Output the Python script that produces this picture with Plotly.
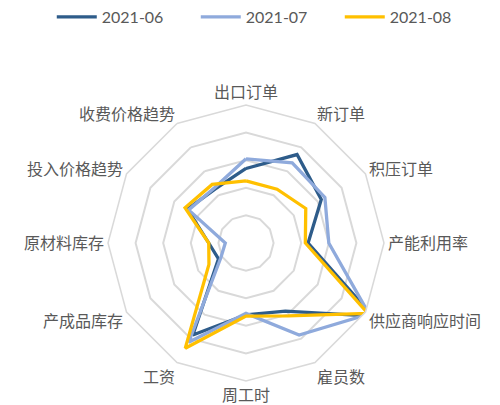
import plotly.graph_objects as go

categories = ["出口订单", "新订单", "积压订单", "产能利用率", "供应商响应时间", "雇员数",
              "周工时", "工资", "产成品库存", "原材料库存", "投入价格趋势", "收费价格趋势"]
s_2021_06 = [54, 74, 63, 45, 106, 57, 52, 77, 23, 27, 49, 45]
s_2021_07 = [61, 67, 66, 60, 103, 77, 51, 83, 21, 15, 48, 46]
s_2021_08 = [45, 45, 50, 43, 102, 61, 53, 88, 31, 27, 51, 49]
series_names = ["2021-06", "2021-07", "2021-08"]
colors = ["#2E5C8A", "#8FAADC", "#FFC000"]

fig = go.Figure()
for name, vals, col in zip(series_names, [s_2021_06, s_2021_07, s_2021_08], colors):
    fig.add_trace(go.Scatterpolar(
        r=vals + vals[:1], theta=categories + categories[:1],
        mode="lines", name=name, cliponaxis=False,
        line=dict(color=col, width=3.3),
    ))

W, H = 492, 397
fig.update_layout(
    width=W, height=H,
    margin=dict(l=0, r=0, t=0, b=0, autoexpand=False),
    paper_bgcolor="white", plot_bgcolor="white",
    showlegend=True,
    legend=dict(orientation="h", x=0.528, xanchor="center", y=1.02, yanchor="top",
                font=dict(family="Lato", size=16, color="#595959"),
                entrywidth=89, itemwidth=40),
    polar=dict(
        domain=dict(x=[0.20325, 0.76423], y=[0.06045, 0.75567]),
        gridshape="linear",
        bgcolor="white",
        radialaxis=dict(range=[0, 100], tickvals=[20, 40, 60, 80], showticklabels=False,
                        ticks="", showline=False, gridcolor="#D9D9D9", gridwidth=1.5),
        angularaxis=dict(direction="clockwise", rotation=90, showgrid=False, ticks="",
                         showline=True, linecolor="#D9D9D9", linewidth=1.5,
                         categoryorder="array", categoryarray=categories,
                         tickfont=dict(family="Noto Sans CJK SC", size=16, color="#595959")),
    ),
)
fig.write_html("out.html")
